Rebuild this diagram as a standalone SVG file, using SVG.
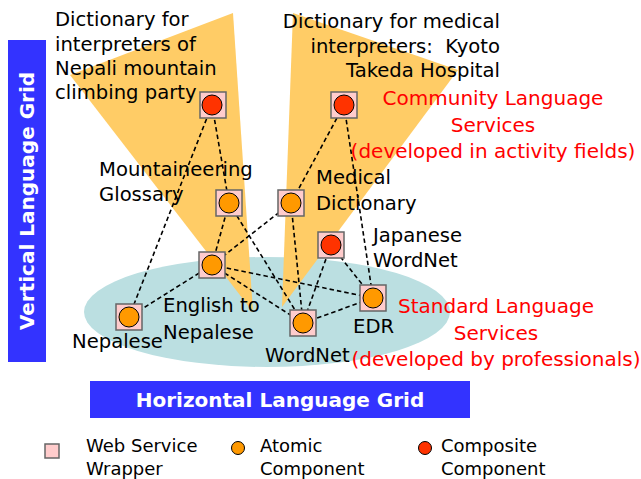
<svg xmlns="http://www.w3.org/2000/svg" width="641" height="479" viewBox="0 0 641 479">
  <style>
    text { font-family: "DejaVu Sans", Verdana, sans-serif; font-size: 19.6px; fill: #000; }
    .red { fill: #FF0000; font-size: 20px; }
    .bar { fill: #3333FF; }
    .barText { font-weight: bold; fill: #FFFFFF; font-size: 20px; }
    .legend { font-size: 18px; }
    .wrap { fill: #FFCCCC; stroke: #666666; stroke-width: 1.5; }
    .atomic { fill: #FF9900; stroke: #000; stroke-width: 1; }
    .composite { fill: #FF3300; stroke: #000; stroke-width: 1; }
    .link { stroke: #000; stroke-width: 1.6; stroke-dasharray: 4.5 3; fill: none; }
  </style>
  <defs>
    <g id="wrapper">
      <rect class="wrap" x="-13" y="-13" width="26" height="26"/>
    </g>
  </defs>

  <!-- Standard services field -->
  <ellipse cx="267" cy="312" rx="183" ry="55" fill="#BBDFE1"/>

  <!-- Community service fields -->
  <polygon points="70,75 233,13 253,312" fill="#FFCC66"/>
  <polygon points="293,13 458,70 282,307" fill="#FFCC66"/>

  <!-- Grid axes -->
  <g id="vertical-grid">
    <rect class="bar" x="8" y="40" width="38" height="322"/>
    <text class="barText" transform="translate(34,201) rotate(-90)" text-anchor="middle">Vertical Language Grid</text>
  </g>
  <g id="horizontal-grid">
    <rect class="bar" x="90" y="381" width="380" height="37"/>
    <text class="barText" x="280" y="407" text-anchor="middle">Horizontal Language Grid</text>
  </g>

  <!-- Connectors -->
  <g id="connectors">
    <line class="link" x1="212" y1="105" x2="229" y2="203"/>
    <line class="link" x1="212" y1="105" x2="129" y2="317"/>
    <line class="link" x1="229" y1="203" x2="212" y2="265"/>
    <line class="link" x1="229" y1="203" x2="303" y2="323"/>
    <line class="link" x1="344" y1="105" x2="291" y2="203"/>
    <line class="link" x1="344" y1="105" x2="373" y2="298"/>
    <line class="link" x1="291" y1="203" x2="212" y2="265"/>
    <line class="link" x1="291" y1="203" x2="303" y2="323"/>
    <line class="link" x1="331" y1="245" x2="303" y2="323"/>
    <line class="link" x1="331" y1="245" x2="373" y2="298"/>
    <line class="link" x1="212" y1="265" x2="373" y2="298"/>
    <line class="link" x1="212" y1="265" x2="303" y2="323"/>
    <line class="link" x1="212" y1="265" x2="129" y2="317"/>
    <line class="link" x1="303" y1="323" x2="373" y2="298"/>
  </g>

  <!-- Nodes -->
  <g id="nepali-climbing-dictionary">
    <use href="#wrapper" x="213" y="105"/>
    <circle class="composite" cx="212" cy="105" r="10"/>
    <text x="55" y="26">Dictionary for</text>
    <text x="55" y="51">interpreters of</text>
    <text x="55" y="75">Nepali mountain</text>
    <text x="55" y="99">climbing party</text>
  </g>
  <g id="medical-interpreter-dictionary">
    <use href="#wrapper" x="344" y="105"/>
    <circle class="composite" cx="344" cy="105" r="10"/>
    <text x="500" y="28" text-anchor="end">Dictionary for medical</text>
    <text x="500" y="53" text-anchor="end" xml:space="preserve">interpreters:  Kyoto</text>
    <text x="500" y="77" text-anchor="end">Takeda Hospital</text>
  </g>
  <g id="mountaineering-glossary">
    <use href="#wrapper" x="229" y="203"/>
    <circle class="atomic" cx="229" cy="203" r="10"/>
    <text x="99" y="176">Mountaineering</text>
    <text x="99" y="201">Glossary</text>
  </g>
  <g id="medical-dictionary">
    <use href="#wrapper" x="291" y="203"/>
    <circle class="atomic" cx="291" cy="203" r="10"/>
    <text x="316" y="184">Medical</text>
    <text x="316" y="210">Dictionary</text>
  </g>
  <g id="japanese-wordnet">
    <use href="#wrapper" x="331" y="245"/>
    <circle class="composite" cx="331" cy="245" r="10"/>
    <text x="373" y="242">Japanese</text>
    <text x="373" y="267">WordNet</text>
  </g>
  <g id="english-to-nepalese">
    <use href="#wrapper" x="212" y="265"/>
    <circle class="atomic" cx="212" cy="265" r="10"/>
    <text x="163" y="312">English to</text>
    <text x="163" y="339">Nepalese</text>
  </g>
  <g id="nepalese">
    <use href="#wrapper" x="129" y="317"/>
    <circle class="atomic" cx="129" cy="317" r="10"/>
    <text x="72" y="348">Nepalese</text>
  </g>
  <g id="wordnet">
    <use href="#wrapper" x="303" y="323"/>
    <circle class="atomic" cx="303" cy="323" r="10"/>
    <text x="265" y="362">WordNet</text>
  </g>
  <g id="edr">
    <use href="#wrapper" x="373" y="298"/>
    <circle class="atomic" cx="373" cy="298" r="10"/>
    <text x="353" y="333">EDR</text>
  </g>

  <!-- Field captions -->
  <g id="community-caption">
    <text class="red" x="493" y="105" text-anchor="middle">Community Language</text>
    <text class="red" x="493" y="132" text-anchor="middle">Services</text>
    <text class="red" x="493" y="158" text-anchor="middle">(developed in activity fields)</text>
  </g>
  <g id="standard-caption">
    <text class="red" x="496" y="313" text-anchor="middle">Standard Language</text>
    <text class="red" x="496" y="340" text-anchor="middle">Services</text>
    <text class="red" x="496" y="366" text-anchor="middle">(developed by professionals)</text>
  </g>

  <!-- Legend -->
  <g id="legend">
    <rect class="wrap" x="45" y="444" width="14" height="14"/>
    <text class="legend" x="86" y="452">Web Service</text>
    <text class="legend" x="86" y="475">Wrapper</text>
    <circle class="atomic" cx="238" cy="448" r="6.5"/>
    <text class="legend" x="260" y="452">Atomic</text>
    <text class="legend" x="260" y="475">Component</text>
    <circle class="composite" cx="425" cy="448" r="6.5"/>
    <text class="legend" x="441" y="452">Composite</text>
    <text class="legend" x="441" y="475">Component</text>
  </g>
</svg>
